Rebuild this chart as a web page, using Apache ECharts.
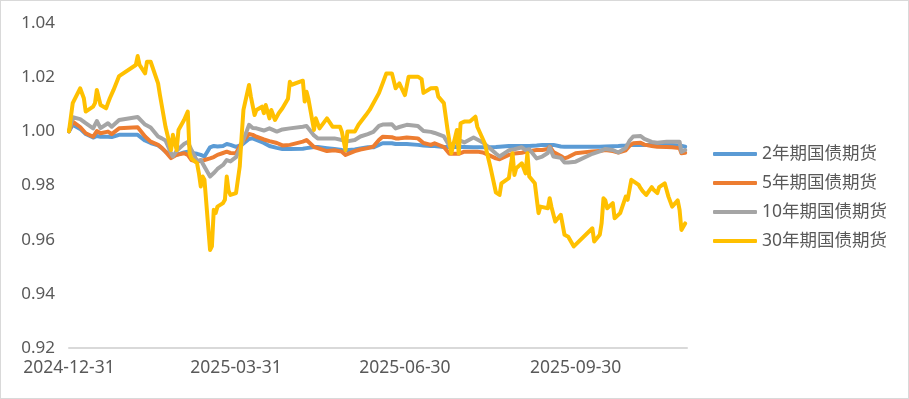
<!DOCTYPE html>
<html>
<head>
<meta charset="utf-8">
<script src="https://cdn.jsdelivr.net/npm/echarts@6/dist/echarts.min.js"></script>
<style>
  body { margin: 0; background: #fff; }
  #chart { position: absolute; left: 0; top: 0; width: 909px; height: 399px; }
  #frame { position: absolute; left: 0; top: 0; width: 909px; height: 399px; box-sizing: border-box; border: 1px solid #d9d9d9; pointer-events: none; }
</style>
</head>
<body>
<div id="chart"></div>
<div id="frame"></div>
<script>
let names = ['2年期国债期货', '5年期国债期货', '10年期国债期货', '30年期国债期货'];
let colors = ['#5B9BD5', '#ED7D31', '#A5A5A5', '#FFC000'];
let tickDates = ['2024-12-31', '2025-03-31', '2025-06-30', '2025-09-30'];

// 2Y / 5Y / 10Y share the same sampled dates
let dates = [
	'2024-12-31','2025-01-02','2025-01-06','2025-01-09','2025-01-13','2025-01-15','2025-01-17','2025-01-21','2025-01-23','2025-01-27',
	'2025-02-06','2025-02-10','2025-02-13','2025-02-17','2025-02-19','2025-02-21','2025-02-24','2025-02-25','2025-02-27','2025-03-03',
	'2025-03-05','2025-03-07','2025-03-10','2025-03-12','2025-03-14','2025-03-17','2025-03-19','2025-03-21','2025-03-24','2025-03-26',
	'2025-03-28','2025-03-31','2025-04-01','2025-04-03','2025-04-07','2025-04-09','2025-04-11','2025-04-15','2025-04-18','2025-04-22',
	'2025-04-25','2025-04-29','2025-05-06','2025-05-08','2025-05-12','2025-05-14','2025-05-19','2025-05-23','2025-05-27','2025-05-29',
	'2025-06-03','2025-06-06','2025-06-10','2025-06-13','2025-06-16','2025-06-18','2025-06-23','2025-06-25','2025-06-27','2025-07-01',
	'2025-07-07','2025-07-10','2025-07-14','2025-07-16','2025-07-21','2025-07-24','2025-07-25','2025-07-29','2025-08-01','2025-08-06',
	'2025-08-08','2025-08-11','2025-08-14','2025-08-18','2025-08-20','2025-08-25','2025-08-28','2025-09-01','2025-09-03','2025-09-05',
	'2025-09-09','2025-09-12','2025-09-15','2025-09-16','2025-09-18','2025-09-22','2025-09-24','2025-09-26','2025-09-30','2025-10-09',
	'2025-10-13','2025-10-16','2025-10-20','2025-10-23','2025-10-27','2025-10-29','2025-10-31','2025-11-04','2025-11-06','2025-11-10',
	'2025-11-13','2025-11-18','2025-11-21','2025-11-25','2025-11-26','2025-11-28'
];
let y2 = [
	1.0000,1.0024,1.0009,0.9990,0.9977,0.9983,0.9980,0.9980,0.9979,0.9987,
	0.9987,0.9966,0.9957,0.9948,0.9938,0.9925,0.9911,0.9909,0.9913,0.9922,
	0.9925,0.9920,0.9917,0.9913,0.9907,0.9941,0.9946,0.9944,0.9946,0.9953,
	0.9950,0.9943,0.9939,0.9950,0.9972,0.9974,0.9968,0.9957,0.9946,0.9939,
	0.9935,0.9935,0.9936,0.9938,0.9942,0.9942,0.9938,0.9935,0.9931,0.9930,
	0.9933,0.9937,0.9941,0.9941,0.9950,0.9956,0.9956,0.9953,0.9953,0.9953,
	0.9950,0.9948,0.9946,0.9946,0.9942,0.9942,0.9942,0.9943,0.9942,0.9941,
	0.9941,0.9941,0.9941,0.9942,0.9943,0.9946,0.9946,0.9946,0.9946,0.9946,
	0.9948,0.9950,0.9950,0.9956,0.9950,0.9944,0.9943,0.9943,0.9943,0.9943,
	0.9943,0.9944,0.9945,0.9946,0.9948,0.9950,0.9950,0.9950,0.9950,0.9950,
	0.9950,0.9950,0.9950,0.9948,0.9946,0.9943
];
let y5 = [
	1.0000,1.0036,1.0016,0.9993,0.9980,1.0001,0.9993,0.9999,0.9990,1.0011,
	1.0015,0.9981,0.9962,0.9950,0.9939,0.9925,0.9901,0.9902,0.9913,0.9919,
	0.9913,0.9894,0.9888,0.9891,0.9894,0.9900,0.9905,0.9913,0.9920,0.9925,
	0.9920,0.9919,0.9919,0.9957,0.9990,0.9987,0.9980,0.9970,0.9964,0.9957,
	0.9948,0.9950,0.9962,0.9968,0.9942,0.9938,0.9927,0.9930,0.9925,0.9913,
	0.9927,0.9933,0.9938,0.9944,0.9968,0.9980,0.9978,0.9974,0.9974,0.9977,
	0.9974,0.9957,0.9950,0.9956,0.9942,0.9917,0.9913,0.9917,0.9925,0.9925,
	0.9925,0.9922,0.9913,0.9900,0.9897,0.9913,0.9918,0.9921,0.9924,0.9927,
	0.9931,0.9931,0.9935,0.9944,0.9924,0.9909,0.9900,0.9905,0.9919,0.9926,
	0.9927,0.9931,0.9927,0.9922,0.9930,0.9946,0.9956,0.9958,0.9951,0.9946,
	0.9943,0.9942,0.9941,0.9938,0.9919,0.9921
];
let y10 = [
	1.0000,1.0052,1.0045,1.0030,1.0011,1.0038,1.0012,1.0030,1.0017,1.0042,
	1.0053,1.0025,1.0014,0.9981,0.9974,0.9966,0.9919,0.9907,0.9928,0.9953,
	0.9961,0.9931,0.9891,0.9894,0.9869,0.9833,0.9846,0.9861,0.9876,0.9894,
	0.9889,0.9905,0.9902,0.9950,1.0024,1.0012,1.0011,1.0003,1.0011,0.9999,
	1.0007,1.0011,1.0017,1.0020,0.9985,0.9974,0.9974,0.9974,0.9968,0.9962,
	0.9968,0.9981,0.9990,0.9998,1.0020,1.0025,1.0026,1.0011,1.0016,1.0024,
	1.0020,1.0001,0.9998,0.9994,0.9981,0.9946,0.9943,0.9968,0.9959,0.9977,
	0.9970,0.9959,0.9942,0.9918,0.9907,0.9930,0.9934,0.9941,0.9931,0.9934,
	0.9900,0.9907,0.9920,0.9942,0.9907,0.9902,0.9885,0.9885,0.9888,0.9917,
	0.9926,0.9935,0.9931,0.9922,0.9939,0.9965,0.9981,0.9983,0.9972,0.9961,
	0.9958,0.9962,0.9962,0.9962,0.9924,0.9931
];

// 30Y moves much more, so it gets its own denser dates
let dates30 = [
	'2024-12-31','2025-01-02','2025-01-06','2025-01-08','2025-01-09','2025-01-13','2025-01-14','2025-01-15','2025-01-16','2025-01-17',
	'2025-01-20','2025-01-21','2025-01-22','2025-01-24','2025-01-27','2025-02-05','2025-02-06','2025-02-07','2025-02-10','2025-02-11',
	'2025-02-13','2025-02-17','2025-02-18','2025-02-19','2025-02-21','2025-02-24','2025-02-25','2025-02-26','2025-02-27','2025-02-28',
	'2025-03-03','2025-03-05','2025-03-06','2025-03-07','2025-03-10','2025-03-11','2025-03-12','2025-03-13','2025-03-14','2025-03-17',
	'2025-03-18','2025-03-19','2025-03-20','2025-03-21','2025-03-24','2025-03-25','2025-03-26','2025-03-27','2025-03-28','2025-03-31',
	'2025-04-01','2025-04-02','2025-04-03','2025-04-04','2025-04-07','2025-04-08','2025-04-09','2025-04-10','2025-04-11','2025-04-14',
	'2025-04-15','2025-04-16','2025-04-17','2025-04-18','2025-04-19','2025-04-21','2025-04-23','2025-04-25','2025-04-28','2025-04-29',
	'2025-04-30','2025-05-06','2025-05-07','2025-05-08','2025-05-09','2025-05-12','2025-05-13','2025-05-15','2025-05-19','2025-05-22',
	'2025-05-26','2025-05-27','2025-05-29','2025-05-30','2025-06-03','2025-06-05','2025-06-09','2025-06-11','2025-06-12','2025-06-16',
	'2025-06-18','2025-06-20','2025-06-23','2025-06-25','2025-06-27','2025-06-30','2025-07-02','2025-07-07','2025-07-09','2025-07-10',
	'2025-07-14','2025-07-15','2025-07-17','2025-07-18','2025-07-21','2025-07-23','2025-07-25','2025-07-28','2025-07-29','2025-07-30',
	'2025-08-01','2025-08-04','2025-08-07','2025-08-08','2025-08-12','2025-08-15','2025-08-18','2025-08-20','2025-08-21','2025-08-25',
	'2025-08-27','2025-08-28','2025-08-29','2025-09-01','2025-09-03','2025-09-04','2025-09-05','2025-09-08','2025-09-10','2025-09-11',
	'2025-09-12','2025-09-15','2025-09-16','2025-09-17','2025-09-19','2025-09-22','2025-09-24','2025-09-26','2025-09-29','2025-09-30',
	'2025-10-09','2025-10-10','2025-10-13','2025-10-14','2025-10-15','2025-10-16','2025-10-17','2025-10-20','2025-10-21','2025-10-22',
	'2025-10-24','2025-10-27','2025-10-28','2025-10-30','2025-10-31','2025-11-03','2025-11-04','2025-11-05','2025-11-07','2025-11-10',
	'2025-11-11','2025-11-13','2025-11-14','2025-11-17','2025-11-19','2025-11-21','2025-11-24','2025-11-25','2025-11-26','2025-11-27',
	'2025-11-28'
];
let y30 = [
	1.0000,1.0104,1.0159,1.0122,1.0073,1.0091,1.0104,1.0153,1.0146,1.0097,
	1.0085,1.0104,1.0122,1.0153,1.0204,1.0245,1.0278,1.0245,1.0214,1.0257,
	1.0257,1.0177,1.0134,1.0134,1.0017,0.9931,0.9987,0.9987,0.9931,1.0005,
	1.0042,1.0073,0.9919,0.9900,0.9882,0.9845,0.9796,0.9833,0.9821,0.9562,
	0.9575,0.9710,0.9698,0.9722,0.9735,0.9747,0.9833,0.9780,0.9765,0.9772,
	0.9777,0.9870,0.9980,1.0079,1.0171,1.0128,1.0134,1.0060,1.0079,1.0091,
	1.0067,1.0097,1.0073,1.0048,1.0079,1.0042,1.0067,1.0085,1.0120,1.0183,
	1.0172,1.0187,1.0110,1.0146,1.0120,1.0005,1.0048,1.0011,1.0048,1.0017,
	1.0017,0.9999,0.9931,0.9999,0.9999,1.0024,1.0060,1.0079,1.0079,1.0141,
	1.0177,1.0214,1.0214,1.0159,1.0177,1.0134,1.0202,1.0202,1.0193,1.0142,
	1.0159,1.0166,1.0160,1.0128,1.0104,1.0005,0.9919,1.0005,0.9919,1.0030,
	1.0036,1.0036,1.0054,1.0017,0.9956,0.9870,0.9775,0.9765,0.9808,0.9827,
	0.9919,0.9839,0.9864,0.9882,0.9845,0.9919,0.9833,0.9808,0.9698,0.9722,
	0.9722,0.9716,0.9753,0.9720,0.9667,0.9692,0.9618,0.9611,0.9575,0.9580,
	0.9642,0.9593,0.9618,0.9661,0.9753,0.9745,0.9716,0.9735,0.9679,0.9680,
	0.9698,0.9759,0.9747,0.9821,0.9814,0.9802,0.9790,0.9780,0.9765,0.9794,
	0.9784,0.9772,0.9794,0.9808,0.9759,0.9722,0.9745,0.9710,0.9636,0.9648,
	0.9660
];

function toTime(s) {
	return new Date(s + 'T00:00:00').getTime();
}
function pairs(ds, vs) {
	return ds.map((d, i) => [toTime(d), vs[i]]);
}
function fmtDate(t) {
	let d = new Date(t);
	return d.getFullYear() + '-' + ('0' + (d.getMonth() + 1)).slice(-2) + '-' + ('0' + d.getDate()).slice(-2);
}

let FONT = '"Microsoft YaHei", "Noto Sans", "Noto Sans CJK SC", sans-serif';
let seriesData = [pairs(dates, y2), pairs(dates, y5), pairs(dates, y10), pairs(dates30, y30)];

let myChart = echarts.init(document.getElementById('chart'), null, { renderer: 'canvas' });

// x is a plain value axis holding timestamps, so the four date labels can be placed exactly
let option = {
	backgroundColor: '#fff',
	animation: false,
	color: colors,
	grid: {
		left: 69,
		right: 222,
		top: 23,
		bottom: 51
	},
	legend: {
		orient: 'vertical',
		left: 713,
		top: 144,
		padding: 0,
		icon: 'roundRect',
		itemWidth: 44,
		itemHeight: 4,
		itemGap: 9,
		data: names,
		textStyle: {
			color: '#595959',
			fontFamily: FONT,
			fontSize: 17.5,
			lineHeight: 20
		}
	},
	xAxis: {
		type: 'value',
		min: toTime('2024-12-31'),
		max: toTime('2025-11-29'),
		axisLine: { show: true, onZero: false, lineStyle: { color: '#D9D9D9', width: 2 } },
		axisTick: { show: false },
		splitLine: { show: false },
		axisLabel: {
			customValues: tickDates.map(toTime),
			formatter: value => fmtDate(value),
			color: '#595959',
			fontFamily: FONT,
			fontSize: 17.5,
			margin: 11,
			hideOverlap: false
		}
	},
	yAxis: {
		type: 'value',
		min: 0.92,
		max: 1.04,
		interval: 0.02,
		axisLine: { show: false },
		axisTick: { show: false },
		splitLine: { show: false },
		axisLabel: {
			formatter: value => value.toFixed(2),
			color: '#595959',
			fontFamily: FONT,
			fontSize: 17,
			margin: 14
		}
	},
	series: names.map((name, i) => ({
		name: name,
		type: 'line',
		data: seriesData[i],
		symbol: 'none',
		lineStyle: { width: 4, color: colors[i], cap: 'round', join: 'round' }
	}))
};

myChart.setOption(option);
</script>
</body>
</html>
